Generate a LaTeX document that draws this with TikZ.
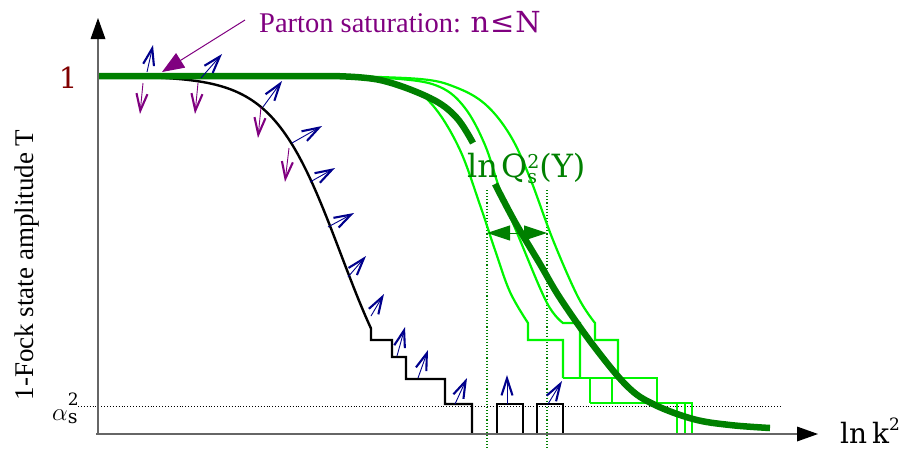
\documentclass[tikz,border=0pt]{standalone}
\usepackage{fontspec}
\setmainfont{Liberation Serif}
\newfontfamily\dvs{DejaVu Serif}
\usetikzlibrary{arrows.meta}
\definecolor{lgreen}{RGB}{0,245,0}
\definecolor{dgreen}{RGB}{0,128,0}
\definecolor{navyc}{RGB}{0,0,140}
\definecolor{purp}{RGB}{128,0,128}
\definecolor{dred}{RGB}{128,0,0}
\tikzset{
  lg/.style={lgreen, line width=2.2pt},
  dband/.style={dgreen, line width=6.5pt},
  blk/.style={black, line width=2.4pt},
  axisline/.style={gray!80!black, line width=1.6pt},
  uparr/.style={navyc, line width=0.9pt, -{Straight Barb[length=17pt,width=11pt,line width=2.1pt]}},
  dnarr/.style={purp, line width=0.9pt, -{Straight Barb[length=17pt,width=11pt,line width=2.1pt]}},
  vdot/.style={dgreen, dotted, line width=1.1pt},
}
\begin{document}
\begin{tikzpicture}[x=1pt,y=-1pt]
\useasboundingbox (0,0) rectangle (911,448);

% alpha_s^2 level dotted line
\coordinate (al0) at (78,406);
\coordinate (al1) at (782,406);
\draw[black, dotted, line width=0.9pt] (al0) -- (al1);

% green dotted verticals
\coordinate (v1t) at (487,190); \coordinate (v1b) at (487,448);
\coordinate (v2t) at (547,190); \coordinate (v2b) at (547,448);
\draw[vdot] (v1t) -- (v1b);
\draw[vdot] (v2t) -- (v2b);

% black curve with steps
\draw[blk, line join=miter] plot[domain=140:371, samples=80] (\x, {76+357/(1+exp(-(\x-341)/34))})
  -- (371,340) -- (392,340) -- (392,357) -- (406,357) -- (406,379) -- (445,379) -- (445,404) -- (472,404) -- (472,433);
\draw[blk] (497,433) -- (497,404) -- (523,404) -- (523,433);
\draw[blk] (537,433) -- (537,404) -- (563,404) -- (563,433);

% light green curves
\draw[lg] plot[smooth, tension=0.6] coordinates {(300,76) (370,78) (410,88) (435,108) (460,150) (480,205) (495,250) (510,292) (528,323)}
  -- (528,340) -- (563,340) -- (563,378);
\draw[lg] plot[smooth, tension=0.6] coordinates {(320,76) (400,79) (440,87) (465,108) (485,145) (500,190) (520,240) (547,303) (563,323)}
  -- (580,323) -- (580,378);
\draw[lg] plot[smooth, tension=0.6] coordinates {(340,76) (420,79) (455,87) (485,104) (510,135) (530,178) (553,240) (578,297) (595,323)}
  -- (595,340) -- (618,340) -- (618,378);
\draw[lg] (563,378) -- (657,378) -- (657,403);
\draw[lg] (590,378) -- (590,403);
\draw[lg] (612,378) -- (612,403);
\draw[lg] (590,403) -- (693,403);
\draw[lg] (677,403) -- (677,433);
\draw[lg] (685,403) -- (685,433);
\draw[lg] (692,403) -- (692,433);

% dark green band
\draw[dband] (98,76) -- (330,76) plot[smooth, tension=0.6] coordinates {(330,76) (380,80) (430,98) (456,117) (473,143)};
\draw[dband] plot[smooth, tension=0.6] coordinates {(495,184) (515,222) (540,264) (560,298) (593,345) (627,386) (653,404) (693,419) (730,425) (770,428)};

% double arrow
\coordinate (da0) at (487,233);
\coordinate (da1) at (547,233);
\draw[dgreen, line width=1pt, {Triangle[length=23pt,width=15pt]}-{Triangle[length=23pt,width=15pt]}] (da0) -- (da1);

% axes
\coordinate (o) at (98,434);
\coordinate (ytip) at (98,22);
\coordinate (xtip) at (814,434);
\coordinate (xs) at (96,434);
\draw[axisline] (o) -- (ytip);
\draw[axisline] (xs) -- (xtip);
\fill[black] (98,18) -- (90.5,39) -- (105.5,39) -- cycle;
\fill[black] (818,434) -- (797,426.5) -- (797,441.5) -- cycle;

% small growth arrows (blue)
\draw[uparr] (147,72) -- (153,45);
\draw[uparr] (201,78) -- (222,54);
\draw[uparr] (263,107) -- (282,81);
\draw[uparr] (292,143) -- (322,126);
\draw[uparr] (310,182) -- (335,168);
\draw[uparr] (328,227) -- (354,213);
\draw[uparr] (348,277) -- (366,256);
\draw[uparr] (371,316) -- (384,294);
\draw[uparr] (397,356) -- (405,327);
\draw[uparr] (418,378) -- (428,350);
\draw[uparr] (455,404) -- (467,378);
\draw[uparr] (507,404) -- (507,375);
\draw[uparr] (548,404) -- (562,381);
% small arrows (purple)
\draw[dnarr] (143,83) -- (140,114);
\draw[dnarr] (198,83) -- (195,114);
\draw[dnarr] (261,107) -- (258,138);
\draw[dnarr] (289,148) -- (285,182);

% saturation annotation
\node[anchor=base west, inner sep=0pt, text=purp, font=\fontsize{28.5}{32}\selectfont] (sat) at (259,32)
  {Parton saturation: {\dvs\fontsize{29}{32}\selectfont n\kern1pt≤\kern1ptN}};
\coordinate (sa0) at (245,20);
\coordinate (sa1) at (162,72);
\draw[purp, line width=1pt, -{Triangle[length=22pt,width=17pt]}] (sa0) -- (sa1);

% labels
\node[inner sep=0pt, text=dred, font=\dvs\fontsize{29}{32}\selectfont] (one) at (68,78) {1};
\node[anchor=base west, inner sep=0pt, font=\fontsize{30}{32}\selectfont] (als) at (52,420)
  {$\alpha$\rlap{\raisebox{-3pt}{\dvs\fontsize{19}{19}\selectfont s}}\raisebox{15pt}{\dvs\fontsize{17}{17}\selectfont 2}};
\node[rotate=90, inner sep=0pt, font=\fontsize{27}{30}\selectfont] (ylab) at (27,265) {1-Fock state amplitude T};
\node[anchor=base west, inner sep=0pt, font=\dvs\fontsize{28}{30}\selectfont] (xlab) at (840,443)
  {ln\kern5pt k\raisebox{13pt}{\fontsize{17}{17}\selectfont 2}};
\node[anchor=base west, inner sep=0pt, text=dgreen, font=\dvs\fontsize{32}{34}\selectfont] (qs) at (467,177)
  {ln\kern3pt Q\rlap{\raisebox{-6pt}{\fontsize{19}{19}\selectfont s}}\raisebox{9pt}{\fontsize{19}{19}\selectfont 2}(Y)};
\end{tikzpicture}
\end{document}
